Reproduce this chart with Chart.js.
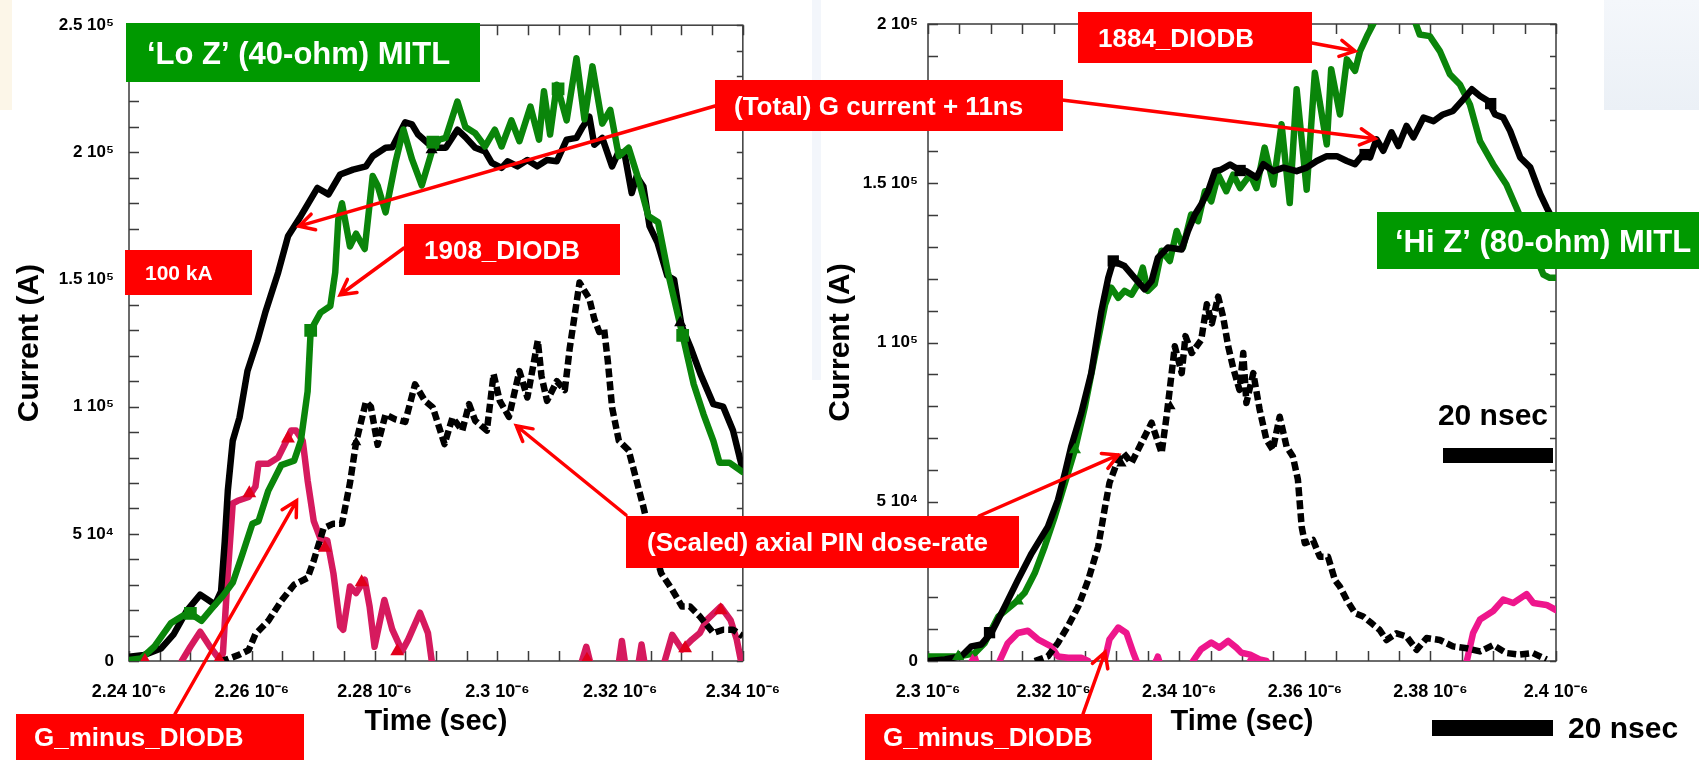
<!DOCTYPE html>
<html>
<head>
<meta charset="utf-8">
<script src="https://cdn.jsdelivr.net/npm/chart.js@4.4.1/dist/chart.umd.min.js"></script>
<style>
  html, body { margin: 0; padding: 0; background: #fff; overflow: hidden; }
  #page { position: relative; width: 1699px; height: 760px; }
  #page canvas { position: absolute; top: 0; }
  .wash { position: absolute; }
</style>
</head>
<body>
<div id="page">
  <div class="wash" style="left:0;top:0;width:12px;height:110px;background:#fcf6e8"></div>
  <div class="wash" style="left:812px;top:0;width:9px;height:380px;background:#f3f6fb"></div>
  <div class="wash" style="left:1604px;top:0;width:95px;height:110px;background:linear-gradient(#f4f7fb,#ebf0f6)"></div>
  <canvas id="left" width="800" height="760" style="left:0"></canvas>
  <canvas id="right" width="899" height="760" style="left:800px"></canvas>
  <canvas id="notes" width="1699" height="760" style="left:0"></canvas>
</div>
<script>
// time in ns after the axis start, current in kA
const leftT0 = 2.24e-6;
const rightT0 = 2.30e-6;

const leftTimeTicks = [2.24e-6, 2.26e-6, 2.28e-6, 2.30e-6, 2.32e-6, 2.34e-6];
const leftTimeLabels = ['2.24 10⁻⁶', '2.26 10⁻⁶', '2.28 10⁻⁶', '2.3 10⁻⁶', '2.32 10⁻⁶', '2.34 10⁻⁶'];
const leftCurrentTicks = [0, 5e4, 1e5, 1.5e5, 2e5, 2.5e5];
const leftCurrentLabels = ['0', '5 10⁴', '1 10⁵', '1.5 10⁵', '2 10⁵', '2.5 10⁵'];

const rightTimeTicks = [2.30e-6, 2.32e-6, 2.34e-6, 2.36e-6, 2.38e-6, 2.40e-6];
const rightTimeLabels = ['2.3 10⁻⁶', '2.32 10⁻⁶', '2.34 10⁻⁶', '2.36 10⁻⁶', '2.38 10⁻⁶', '2.4 10⁻⁶'];
const rightCurrentTicks = [0, 5e4, 1e5, 1.5e5, 2e5];
const rightCurrentLabels = ['0', '5 10⁴', '1 10⁵', '1.5 10⁵', '2 10⁵'];

// Lo Z shot
const leftTotal = [[0,1.7],[2.5,2.4],[5.2,4.9],[7.3,10.6],[9.4,19.7],[11.6,26.1],[14.0,22.2],[15.0,27.4],[15.6,47],
  [16.1,67],[16.9,86.6],[18.0,95.7],[19.3,114],[20.9,125.8],[22.2,137],[24.3,152.8],[25.9,167],[28.0,175],[30.7,186],
  [32.5,183.5],[34.4,191.3],[36.5,193.2],[38.6,194.5],[39.7,198.5],[41.8,201.8],[42.9,202],[45.0,211.8],[46.1,211],
  [47.1,207],[48.7,203.6],[49.8,201.8],[51.6,201.8],[53.5,208.9],[54.8,206],[56.4,201.8],[58.0,200.4],[59.1,195.9],
  [60.7,193.9],[61.7,196.5],[63.3,194.5],[64.9,197],[66.5,194.5],[68.1,197],[69.7,196.5],[71.3,205],[72.9,205.7],
  [73.9,210],[75.0,214],[75.8,203],[77.1,205.7],[78.7,194.5],[79.8,200.4],[80.8,198.5],[81.9,184],[82.7,190.6],
  [83.8,186.6],[84.8,171],[86.1,164.5],[87.7,151.5],[88.8,150],[90.0,132],[91.5,123.2],[93.1,112.8],[95.2,101],
  [96.8,100],[98.4,90.6],[100,75]];
const leftDiode = [[0,0.4],[2.0,1],[4.1,5.6],[6.8,14.8],[8.9,18],[10.0,18.7],[11.8,15.8],[13.4,20.4],[15.3,25.6],
  [16.9,30.8],[18.5,42.2],[20.1,54],[21.1,55],[22.7,67],[24.8,77],[26.9,78.8],[28.0,86.6],[29.1,106],[29.6,130],
  [31.2,137],[32.8,139.6],[33.6,152.8],[34.1,173.7],[34.7,180],[36.0,163],[37.0,168],[38.4,162],[39.7,190.7],
  [40.5,187],[41.8,176.4],[43.4,196],[44.7,209],[46.1,197.3],[47.7,187],[49.3,200],[50.5,205],[51.6,205.7],
  [53.5,220],[54.8,210],[56.4,207.5],[58.0,202.3],[59.6,208.9],[60.7,202.3],[62.3,212.6],[63.6,204.4],[65.4,218],
  [66.8,205],[67.6,224],[68.6,207],[69.7,226.6],[71.3,212.6],[72.9,237],[74.2,213],[75.5,233.8],[77.1,211.3],
  [78.4,216.7],[79.8,198.5],[81.4,201.8],[83.0,189.4],[84.6,175],[86.2,172.5],[87.8,152.8],[88.8,142.4],[90.2,128],
  [92.0,108.8],[93.6,97],[95.2,86.6],[96.2,78],[97.8,78],[100,74.3]];
const leftPin = [[14.8,0],[15.8,0.5],[17.9,2.4],[19.5,4.3],[20.6,10.6],[22.7,15.8],[24.8,23.6],[26.9,30],[29.1,32.7],
  [30.1,39.5],[31.7,52.2],[33.3,54],[34.7,54],[36.0,70],[37.0,86],[38.6,102],[39.4,100],[40.5,85],[41.8,97],[43.4,95],
  [45.0,94],[46.6,108.8],[48.2,102.3],[49.5,99.7],[51.4,85.3],[52.7,95.7],[54.3,90.6],[55.4,101],[56.4,94.5],
  [58.3,90.6],[59.4,112.8],[60.4,102.3],[61.9,96],[63.6,114],[64.9,103.6],[66.6,126],[67.2,112],[68.1,102.3],
  [69.7,110],[71.0,106.5],[71.8,123],[73.4,148.8],[75.0,142.4],[75.8,134.5],[76.6,129.4],[77.4,130.6],[78.0,118],
  [78.7,99.7],[79.8,86.6],[81.4,82.8],[82.4,73.6],[83.8,60.6],[85.1,47.5],[86.7,34.5],[88.5,28],[90.1,21.4],
  [91.4,21.4],[93.0,17.5],[95.2,11],[96.8,12.3],[98.4,12.3],[100,9.7]];
const leftMinus = [[8.0,-4],[8.6,0],[10.0,5.6],[11.6,11.5],[13.2,5.6],[14.8,0.4],[15.3,3],[16.1,34.5],[16.9,62],
  [17.7,63],[19.5,64.5],[20.6,68.6],[21.1,77.6],[22.7,77.6],[24.3,80],[25.4,85.3],[26.4,90.6],[27.2,90.6],[28.3,86.6],
  [29.1,71],[30.1,55],[31.2,48],[32.3,47.4],[33.3,34.5],[34.4,13.6],[34.9,12.3],[36.0,29.3],[37.0,26.7],[38.4,32],
  [39.2,21.4],[40.0,5.6],[41.6,24],[42.9,12.3],[44.5,3.9],[45.5,8.5],[47.4,19],[48.7,11],[49.3,0.4],[49.8,-8],
  [73.3,-4],[74.5,5.6],[75.5,-4],[79.6,-4],[80.3,7.9],[81.0,-4],[82.8,-4],[83.5,6.5],[84.2,-4],[86.8,-4],[88.5,10.3],
  [90.1,4.5],[91.7,8.4],[93.0,11],[94.1,16.1],[96.4,21.4],[98.0,16.1],[99.0,8.5],[99.7,0],[100,-4]];
const leftTotalMarks = [[49.3,201],[89.8,133]];
const leftDiodeMarks = [[10.0,18.7],[29.6,130],[49.5,204],[69.9,225],[90.2,128]];
const leftPinMarks = [[37.0,86]];
const leftMinusMarks = [[2.6,0],[14.7,0.5],[19.6,66],[25.9,87.5],[31.9,44.5],[37.9,31],[43.7,3.8],[74.6,0.5],[90.6,5],[96.4,20]];

// Hi Z shot
const rightTotal = [[0,0],[2.7,0.5],[5.3,1.5],[6.9,4.6],[8.5,5.2],[10.1,8.9],[12.2,17],[14.3,25.4],[16.5,33.8],
  [19.1,42.2],[20.7,50.6],[21.8,59],[22.8,67.3],[24.4,77.8],[26.0,90.4],[27.6,109.8],[28.7,120.3],[29.5,125.6],
  [31.3,124],[32.9,120.3],[34.5,116.7],[35.6,119.3],[36.6,126.6],[38.2,129.8],[40.4,129.2],[41.4,135],[42.5,140.2],
  [43.5,143.3],[44.6,147.5],[45.7,153.8],[46.7,154.3],[48.1,155.9],[49.4,154.3],[50.7,153.8],[52.3,151.8],[53.4,156],
  [55.0,153.8],[56.6,154.9],[58.7,153.8],[60.3,154.9],[61.9,157],[63.5,158.5],[65.1,158.5],[66.7,157],[68.0,156],
  [69.3,159.1],[70.4,158.1],[71.4,163.8],[72.5,160.2],[73.8,166],[74.9,161.7],[76.2,168],[77.3,164.4],[78.9,170.6],
  [80.5,169.5],[82.0,171.6],[83.6,172.7],[85.0,175.8],[86.6,179.5],[87.9,177.4],[89.2,175.8],[90.3,171.6],
  [91.6,170.6],[92.7,166.4],[94.3,158.1],[95.9,155],[97.5,146.6],[98.5,142.4],[99.8,137.5]];
const rightDiode = [[0,1.4],[2.7,1.4],[4.8,1.4],[7.4,2.4],[9.0,5.6],[11.2,14],[13.8,18.2],[15.4,21.4],[17.0,27.6],
  [18.6,36],[20.2,45.4],[21.8,55.9],[23.4,66.3],[25.0,80],[26.6,96],[28.2,111.9],[29.2,117.2],[30.3,114],[31.3,116.2],
  [32.4,115],[33.4,118.3],[34.2,123.5],[35.0,116.2],[36.1,118.3],[37.2,128.8],[38.5,125.6],[39.6,135],[40.6,129.8],
  [41.9,140.2],[43.0,138.1],[44.1,147.5],[45.1,144.3],[46.2,152.7],[47.5,147.5],[48.6,152.7],[49.7,148.5],
  [51.3,152.7],[52.3,148.5],[53.6,161.2],[55.0,149.6],[56.3,168.5],[57.6,143.8],[58.7,179.5],[60.3,148],[61.6,184.7],
  [63.5,162.2],[64.2,185.8],[65.6,171.6],[66.7,188.9],[68.0,185.3],[68.8,191.5],[69.9,196.2],[71.0,200.4],[72.5,207],
  [74.5,210],[76.5,206],[77.5,201],[78.3,196.7],[79.9,196.2],[81.5,191.5],[83.1,184.2],[84.7,181],[86.3,174.7],
  [87.9,163.2],[90.0,155.9],[92.1,149.6],[93.7,142.3],[95.3,135],[96.9,126.6],[98.0,121.3],[99.0,120.3],[100,120.3]];
const rightPin = [[17.0,0],[19.1,1.5],[20.7,5.7],[22.3,11],[23.9,17],[25.5,25.4],[27.1,35.9],[28.2,48.5],[28.9,55.9],
  [30.3,63.3],[31.1,65.3],[32.4,62.2],[34.0,68.5],[35.6,74.8],[37.2,65.3],[38.0,77],[38.8,90.4],[39.3,98.8],
  [40.4,90.4],[41.0,102],[42.0,96.7],[43.5,100.8],[44.4,112],[45.2,106],[46.2,114.4],[47.0,108],[47.8,98.8],[48.6,92],
  [49.6,85.1],[50.2,96.7],[50.7,81],[51.8,90.4],[52.8,79],[53.9,69.4],[54.9,66.3],[56.0,76.7],[57.1,67.3],[58.1,64.2],
  [58.9,57],[59.5,42.2],[60.0,37],[61.3,38],[62.4,32.7],[63.7,32.7],[64.8,25.4],[65.6,23.3],[66.7,19.1],[68.0,15],
  [69.3,14],[70.6,11.9],[71.9,9.8],[73.0,6.6],[74.6,8.7],[76.2,7.7],[77.8,3.5],[79.4,7.2],[81.5,6.6],[83.6,4.6],
  [85.8,4],[87.9,3],[90.0,5],[92.1,2.5],[94.2,2],[96.3,2.5],[98.5,0.5]];
const rightMinus = [[6.5,-4],[7.4,1.4],[8.3,-4],[10.8,-4],[11.4,0],[12.7,5.6],[14.3,8.8],[15.9,9.5],[17.5,6.8],
  [19.6,4.6],[20.7,1.4],[22.3,1],[24.4,1],[25.5,0],[26.5,-4],[27.5,-4],[28.1,0],[28.9,6.8],[30.3,10.5],[31.6,8.8],
  [32.7,2.5],[33.2,0],[34.0,-4],[35.8,-4],[36.6,1.4],[37.4,-4],[41.5,-4],[42.2,0],[43.5,3.7],[45.1,5.8],[46.4,4.2],
  [47.8,6.3],[49.1,4.2],[49.9,2.6],[51.3,2],[52.8,0.5],[53.9,0],[55.0,-4],[85.2,-4],[85.8,0],[86.8,8.8],[87.9,13],
  [90.0,15.7],[91.6,19.3],[93.2,18.2],[95.3,21],[96.4,18.2],[98.5,17.6],[100,16]];
const rightTotalMarks = [[9.8,8.9],[29.5,125.6],[49.7,154],[69.6,159],[89.6,175]];
const rightDiodeMarks = [[4.8,1.4],[14.3,18.8],[23.4,66.3]];
const rightPinMarks = [[30.8,62],[38.6,80]];
const rightMinusMarks = [[7.1,0.5],[36.4,0.5],[51.4,0.5]];

const FONT = "'Liberation Sans', Arial, Helvetica, sans-serif";
Chart.defaults.font.family = FONT;
Chart.defaults.font.weight = 'bold';
Chart.defaults.color = '#000';

function pts(arr, t0) {
  return arr.map(([t, i]) => ({ x: t0 + t * 1e-9, y: i * 1e3 }));
}
function line(arr, t0, color, dash) {
  return {
    data: pts(arr, t0), showLine: true, fill: false,
    borderColor: color, backgroundColor: color, borderWidth: 6.5,
    borderDash: dash || [], pointRadius: 0, pointHoverRadius: 0, tension: 0,
    borderJoinStyle: 'round', borderCapStyle: dash ? 'butt' : 'round'
  };
}
function marks(arr, t0, color, style, r) {
  return {
    data: pts(arr, t0), showLine: false, pointStyle: style, pointRadius: r,
    backgroundColor: color, borderColor: color, borderWidth: 0
  };
}

// plot frame with inward ticks on all four sides
const frameTicks = {
  id: 'frameTicks',
  beforeDatasetsDraw(chart, args, opts) {
    const { ctx, chartArea: a, scales: { x, y } } = chart;
    ctx.save();
    ctx.strokeStyle = '#3b3b3b';
    ctx.lineWidth = 1.5;
    ctx.strokeRect(a.left, a.top, a.right - a.left, a.bottom - a.top);
    ctx.beginPath();
    for (let v = x.min; v <= x.max + opts.xStep / 10; v += opts.xStep) {
      const p = Math.round(x.getPixelForValue(v)) + 0.5;
      ctx.moveTo(p, a.bottom); ctx.lineTo(p, a.bottom - 10);
      ctx.moveTo(p, a.top); ctx.lineTo(p, a.top + 10);
    }
    for (let v = y.min; v <= y.max + opts.yStep / 10; v += opts.yStep) {
      const p = Math.round(y.getPixelForValue(v)) + 0.5;
      ctx.moveTo(a.left, p); ctx.lineTo(a.left + 10, p);
      ctx.moveTo(a.right, p); ctx.lineTo(a.right - 6, p);
    }
    ctx.stroke();
    ctx.restore();
  }
};

function makeChart(id, cfg) {
  return new Chart(document.getElementById(id), {
    type: 'line',
    data: { datasets: cfg.datasets },
    plugins: [frameTicks],
    options: {
      responsive: false,
      animation: false,
      layout: { padding: cfg.padding },
      plugins: {
        legend: { display: false },
        tooltip: { enabled: false },
        frameTicks: { xStep: 5e-9, yStep: 1e4 }
      },
      scales: {
        x: {
          type: 'linear', min: cfg.xTicks[0], max: cfg.xTicks[cfg.xTicks.length - 1],
          grid: { display: false, drawTicks: false }, border: { display: false },
          afterBuildTicks: s => { s.ticks = cfg.xTicks.map(v => ({ value: v })); },
          afterFit: s => { s.height = 99; },
          ticks: { autoSkip: false, maxRotation: 0, padding: 20, font: { size: 18 },
            callback: (v, i) => cfg.xLabels[i] },
          title: { display: true, text: 'Time (sec)', font: { size: 29 }, padding: { top: 0, bottom: 21 } }
        },
        y: {
          type: 'linear', min: 0, max: cfg.yTicks[cfg.yTicks.length - 1],
          grid: { display: false, drawTicks: false }, border: { display: false },
          afterBuildTicks: s => { s.ticks = cfg.yTicks.map(v => ({ value: v })); },
          afterFit: s => { s.width = cfg.yWidth; },
          ticks: { autoSkip: false, padding: cfg.yPad, font: { size: 17 },
            callback: (v, i) => cfg.yLabels[i] },
          title: { display: true, text: 'Current (A)', font: { size: 30 }, padding: { top: cfg.titlePad, bottom: 0 } }
        }
      }
    }
  });
}

const leftChart = makeChart('left', {
  xTicks: leftTimeTicks, xLabels: leftTimeLabels, yTicks: leftCurrentTicks, yLabels: leftCurrentLabels,
  yWidth: 129, yPad: 15, titlePad: 12,
  padding: { left: 0, top: 23, right: 43, bottom: 0 },
  datasets: [
    marks(leftMinusMarks, leftT0, '#e2001c', 'triangle', 8),
    marks(leftDiodeMarks, leftT0, '#0a850a', 'rect', 9),
    marks(leftTotalMarks, leftT0, '#000', 'triangle', 7),
    marks(leftPinMarks, leftT0, '#000', 'triangle', 6),
    line(leftDiode, leftT0, '#0a850a'),
    line(leftTotal, leftT0, '#000'),
    line(leftPin, leftT0, '#000', [9, 4]),
    line(leftMinus, leftT0, '#d61a5e')
  ]
});

const rightChart = makeChart('right', {
  xTicks: rightTimeTicks, xLabels: rightTimeLabels, yTicks: rightCurrentTicks, yLabels: rightCurrentLabels,
  yWidth: 128, yPad: 10, titlePad: 23,
  padding: { left: 0, top: 24, right: 143, bottom: 0 },
  datasets: [
    marks(rightTotalMarks, rightT0, '#000', 'rect', 8),
    marks(rightDiodeMarks, rightT0, '#0a850a', 'triangle', 7),
    marks(rightPinMarks, rightT0, '#000', 'triangle', 6),
    marks(rightMinusMarks, rightT0, '#ee168c', 'triangle', 6),
    line(rightTotal, rightT0, '#000'),
    line(rightDiode, rightT0, '#0a850a'),
    line(rightPin, rightT0, '#000', [9, 4]),
    line(rightMinus, rightT0, '#ee168c')
  ]
});

// ---- annotation layer ----
const ov = document.getElementById('notes').getContext('2d');

function at(chart, offset, t0, tNs, kA) {
  return {
    x: offset + chart.scales.x.getPixelForValue(t0 + tNs * 1e-9),
    y: chart.scales.y.getPixelForValue(kA * 1e3)
  };
}

function arrow(x1, y1, tip) {
  const ang = Math.atan2(tip.y - y1, tip.x - x1);
  const len = 17, spread = 0.5;
  ov.save();
  ov.strokeStyle = '#ff0000';
  ov.lineWidth = 3.5;
  ov.lineCap = 'round';
  ov.beginPath();
  ov.moveTo(x1, y1);
  ov.lineTo(tip.x, tip.y);
  ov.moveTo(tip.x - len * Math.cos(ang - spread), tip.y - len * Math.sin(ang - spread));
  ov.lineTo(tip.x, tip.y);
  ov.lineTo(tip.x - len * Math.cos(ang + spread), tip.y - len * Math.sin(ang + spread));
  ov.stroke();
  ov.restore();
}

function label(x, y, w, h, fill, text, size, tx) {
  ov.save();
  ov.fillStyle = fill;
  ov.fillRect(x, y, w, h);
  ov.fillStyle = '#fff';
  ov.font = 'bold ' + size + 'px ' + FONT;
  ov.textBaseline = 'alphabetic';
  ov.fillText(text, tx, y + h / 2 + size * 0.36);
  ov.restore();
}

function scaleBar(text, tx, ty, align, bx, by, bw, bh) {
  ov.save();
  ov.fillStyle = '#000';
  ov.font = 'bold 30px ' + FONT;
  ov.textAlign = align;
  ov.fillText(text, tx, ty);
  ov.fillRect(bx, by, bw, bh);
  ov.restore();
}

const L = (t, i) => at(leftChart, 0, leftT0, t, i);
const R = (t, i) => at(rightChart, 800, rightT0, t, i);

arrow(715, 106, L(27.7, 171));
arrow(1062, 100, R(71.2, 164));
arrow(404, 248, L(34.4, 144));
arrow(626, 515, L(63.1, 92.5));
arrow(979, 516, R(30.3, 64.7));
arrow(175, 714, L(27.3, 63));
arrow(1083, 714, R(28.2, 2.8));
arrow(1312, 43, R(68.0, 191.5));

const GREEN = '#009900', RED = '#ff0000';
label(126, 23, 354, 59, GREEN, '‘Lo Z’ (40-ohm) MITL', 31, 147);
label(1377, 212, 322, 57, GREEN, '‘Hi Z’ (80-ohm) MITL', 31, 1395);
label(715, 80, 348, 51, RED, '(Total) G current + 11ns', 26, 734);
label(404, 224, 216, 51, RED, '1908_DIODB', 26, 424);
label(125, 250, 127, 45, RED, '100 kA', 21, 145);
label(626, 516, 393, 52, RED, '(Scaled) axial PIN dose-rate', 26, 647);
label(16, 714, 288, 46, RED, 'G_minus_DIODB', 26, 34);
label(865, 714, 287, 46, RED, 'G_minus_DIODB', 26, 883);
label(1078, 12, 234, 51, RED, '1884_DIODB', 26, 1098);

scaleBar('20 nsec', 1548, 425, 'right', 1443, 448, 110, 15);
scaleBar('20 nsec', 1568, 738, 'left', 1432, 720, 121, 16);
</script>
</body>
</html>
